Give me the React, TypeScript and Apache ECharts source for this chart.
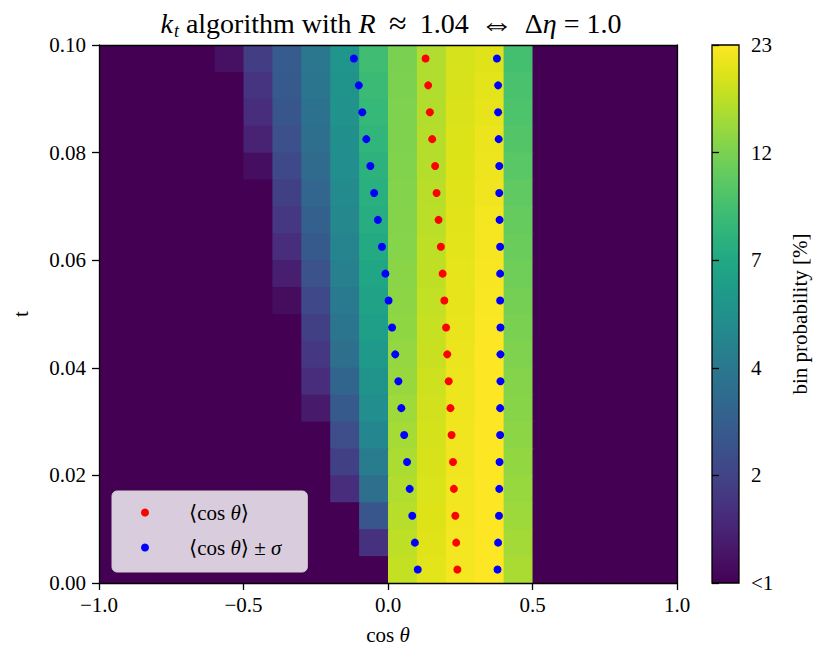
import React, { useEffect, useRef } from "react";
import * as echarts from "echarts";

// cos(theta) bin edges: -1.0 ... 1.0 in steps of 0.1 (20 bins); t bins: 0 ... 0.1 in steps of 0.005 (20 bins)
const cosBinStart = -1.0;
const cosBinWidth = 0.1;
const tBinWidth = 0.005;
const tTop = 0.1;

// bin probability [%], rows from the top t bin (0.095-0.100) down to the bottom one (0.000-0.005)
// columns: cos(theta) bins from [-1.0,-0.9] to [0.9,1.0]
const binProbability: number[][] = [
  [0, 0, 0, 0, 1.15, 1.75, 2.45, 3.45, 5.1, 8.7, 12.3, 15.8, 18.8, 19.8, 9.0, 0, 0, 0, 0, 0],
  [0, 0, 0, 0, 0, 1.6, 2.4, 3.35, 5.0, 8.4, 12.4, 15.9, 19.0, 20.2, 9.3, 0, 0, 0, 0, 0],
  [0, 0, 0, 0, 0, 1.5, 2.3, 3.25, 4.9, 8.1, 12.5, 16.0, 19.2, 20.6, 9.5, 0, 0, 0, 0, 0],
  [0, 0, 0, 0, 0, 1.35, 2.15, 3.1, 4.75, 7.8, 12.6, 16.1, 19.4, 21.0, 9.8, 0, 0, 0, 0, 0],
  [0, 0, 0, 0, 0, 1.12, 1.95, 2.95, 4.6, 7.5, 12.7, 16.2, 19.6, 21.3, 10.2, 0, 0, 0, 0, 0],
  [0, 0, 0, 0, 0, 0, 1.8, 2.8, 4.45, 7.2, 12.8, 16.4, 19.8, 21.6, 10.6, 0, 0, 0, 0, 0],
  [0, 0, 0, 0, 0, 0, 1.65, 2.6, 4.3, 7.0, 12.9, 16.6, 20.0, 21.9, 10.9, 0, 0, 0, 0, 0],
  [0, 0, 0, 0, 0, 0, 1.5, 2.4, 4.1, 6.7, 13.0, 16.8, 20.2, 22.2, 11.2, 0, 0, 0, 0, 0],
  [0, 0, 0, 0, 0, 0, 1.3, 2.2, 3.9, 6.4, 13.2, 17.0, 20.4, 22.5, 11.5, 0, 0, 0, 0, 0],
  [0, 0, 0, 0, 0, 0, 1.1, 1.95, 3.6, 6.1, 13.4, 17.2, 20.6, 22.7, 11.9, 0, 0, 0, 0, 0],
  [0, 0, 0, 0, 0, 0, 0, 1.8, 3.35, 5.8, 13.6, 17.5, 20.8, 22.9, 12.3, 0, 0, 0, 0, 0],
  [0, 0, 0, 0, 0, 0, 0, 1.65, 3.1, 5.4, 13.9, 17.8, 21.0, 23.0, 12.6, 0, 0, 0, 0, 0],
  [0, 0, 0, 0, 0, 0, 0, 1.5, 2.75, 5.0, 14.2, 18.1, 21.2, 23.0, 12.9, 0, 0, 0, 0, 0],
  [0, 0, 0, 0, 0, 0, 0, 1.25, 2.4, 4.6, 14.6, 18.4, 21.4, 23.0, 13.1, 0, 0, 0, 0, 0],
  [0, 0, 0, 0, 0, 0, 0, 0, 2.1, 4.2, 15.0, 18.7, 21.5, 23.0, 13.4, 0, 0, 0, 0, 0],
  [0, 0, 0, 0, 0, 0, 0, 0, 1.8, 3.7, 15.4, 19.0, 21.6, 23.0, 13.8, 0, 0, 0, 0, 0],
  [0, 0, 0, 0, 0, 0, 0, 0, 1.5, 3.1, 15.8, 19.3, 21.7, 23.0, 14.1, 0, 0, 0, 0, 0],
  [0, 0, 0, 0, 0, 0, 0, 0, 0, 2.3, 16.3, 19.6, 21.8, 23.0, 14.5, 0, 0, 0, 0, 0],
  [0, 0, 0, 0, 0, 0, 0, 0, 0, 1.55, 16.8, 19.9, 21.9, 23.0, 14.9, 0, 0, 0, 0, 0],
  [0, 0, 0, 0, 0, 0, 0, 0, 0, 0, 17.3, 20.2, 22.0, 23.0, 15.3, 0, 0, 0, 0, 0],
];

// t bin centres, top to bottom
const tCenters: number[] = [
  0.0975, 0.0925, 0.0875, 0.0825, 0.0775, 0.0725, 0.0675, 0.0625, 0.0575, 0.0525,
  0.0475, 0.0425, 0.0375, 0.0325, 0.0275, 0.0225, 0.0175, 0.0125, 0.0075, 0.0025,
];
// <cos theta> per t bin (top to bottom)
const meanCos: number[] = [
  0.130, 0.139, 0.145, 0.153, 0.163, 0.168, 0.175, 0.183, 0.189, 0.195,
  0.201, 0.205, 0.210, 0.216, 0.220, 0.225, 0.228, 0.233, 0.236, 0.240,
];
// <cos theta> - sigma
const lowerCos: number[] = [
  -0.118, -0.101, -0.089, -0.075, -0.061, -0.048, -0.035, -0.021, -0.009, 0.002,
  0.014, 0.025, 0.036, 0.046, 0.056, 0.066, 0.075, 0.084, 0.093, 0.103,
];
// <cos theta> + sigma
const upperCos: number[] = [
  0.377, 0.381, 0.381, 0.383, 0.385, 0.385, 0.386, 0.388, 0.388, 0.388,
  0.389, 0.389, 0.389, 0.388, 0.388, 0.386, 0.385, 0.384, 0.381, 0.379,
];

const colorbarMax = 23;
const colorbarTickLabels: string[] = ["<1", "2", "4", "7", "12", "23"];

const viridis: string[] = [
  "#440154", "#471365", "#482475", "#463480", "#414487", "#3b528b", "#355f8d",
  "#2f6c8e", "#2a788e", "#25848e", "#21918c", "#1e9c89", "#22a884", "#2fb47c",
  "#44bf70", "#5ec962", "#7ad151", "#9bd93c", "#bddf26", "#dfe318", "#fde725",
];

const FONT = "'Liberation Serif', 'DejaVu Serif', serif";

export default function App() {
  const ref = useRef<HTMLDivElement>(null);

  useEffect(() => {
    document.body.style.margin = "0";
    if (!ref.current) return;
    const chart = echarts.init(ref.current, null, { renderer: "svg" });

    const cells: number[][] = [];
    binProbability.forEach((row, r) => {
      const tc = tTop - tBinWidth * (r + 0.5);
      row.forEach((p, c) => {
        const xc = cosBinStart + cosBinWidth * (c + 0.5);
        const frac = p > 1 ? Math.min(1, Math.log(p) / Math.log(colorbarMax)) : 0;
        cells.push([xc, tc, p, frac]);
      });
    });

    const gradientStops = viridis.map((c, i) => ({ offset: i / (viridis.length - 1), color: c }));

    const axisLine = { show: true, onZero: false, lineStyle: { color: "#000", width: 1.3 } };
    const axisTick = { show: true, inside: false, length: 7, lineStyle: { color: "#000", width: 1.3 } };
    const labelStyle = { color: "#000", fontFamily: FONT, fontSize: 21 };
    const T = 28;
    const titleBase = { color: "#000", fontFamily: FONT, fontSize: T };

    const option: any = {
      animation: false,
      backgroundColor: "#fff",
      title: {
        text: "{i|k}{s|t} algorithm with {i|R}{op|≈}1.04{arr|⇔}Δ{i|η}{eq|=}1.0",
        left: 386,
        textAlign: "center",
        top: 1,
        textStyle: {
          ...titleBase,
          fontWeight: "normal",
          rich: {
            i: { ...titleBase, fontStyle: "italic" },
            s: { ...titleBase, fontStyle: "italic", fontSize: 18, verticalAlign: "bottom", padding: [9, 0, 0, 1] },
            op: { ...titleBase, fontSize: 32, width: 44, align: "center" },
            arr: { ...titleBase, fontSize: 34, width: 56, align: "center" },
            eq: { ...titleBase, width: 30, align: "center" },
          },
        },
      },
      grid: [
        { left: 99, top: 45, width: 578, height: 538, show: true, backgroundColor: "#440154", borderWidth: 0 },
        { left: 712, top: 45, width: 27, height: 538 },
      ],
      xAxis: [
        {
          gridIndex: 0, type: "value", min: -1, max: 1, interval: 0.5, position: "bottom", z: 10,
          axisLine, axisTick, splitLine: { show: false },
          axisLabel: { ...labelStyle, margin: 11, formatter: (v: number) => v.toFixed(1).replace("-", "−") },
          name: "cos {i|θ}", nameLocation: "middle", nameGap: 41,
          nameTextStyle: { ...labelStyle, rich: { i: { ...labelStyle, fontStyle: "italic" } } },
        },
        {
          gridIndex: 0, type: "value", min: -1, max: 1, position: "top", z: 10,
          axisLine, axisTick: { show: false }, axisLabel: { show: false }, splitLine: { show: false },
        },
        {
          gridIndex: 1, type: "value", min: 0, max: 1, show: false,
        },
      ],
      yAxis: [
        {
          gridIndex: 0, type: "value", min: 0, max: 0.1, interval: 0.02, position: "left", z: 10,
          axisLine, axisTick, splitLine: { show: false },
          axisLabel: { ...labelStyle, margin: 13, formatter: (v: number) => v.toFixed(2) },
          name: "t", nameLocation: "middle", nameGap: 68, nameRotate: 90,
          nameTextStyle: { ...labelStyle },
        },
        {
          gridIndex: 0, type: "value", min: 0, max: 0.1, position: "right", z: 10,
          axisLine, axisTick: { show: false }, axisLabel: { show: false }, splitLine: { show: false },
        },
        {
          gridIndex: 1, type: "value", min: 0, max: 5, interval: 1, position: "right", z: 10,
          axisLine: { show: false }, axisTick, splitLine: { show: false },
          axisLabel: { ...labelStyle, margin: 12, formatter: (v: number) => colorbarTickLabels[Math.round(v)] },
          name: "bin probability [%]", nameLocation: "middle", nameGap: 50, nameRotate: 90,
          nameTextStyle: { ...labelStyle },
        },
      ],
      visualMap: {
        type: "continuous",
        show: false,
        seriesIndex: 0,
        dimension: 3,
        min: 0,
        max: 1,
        inRange: { color: viridis },
      },
      legend: {
        orient: "vertical",
        left: 112,
        top: 491,
        padding: [11, 26, 14, 29],
        itemWidth: 48,
        itemHeight: 8,
        itemTextGap: 36,
        itemGap: 14,
        backgroundColor: "rgba(255,255,255,0.8)",
        borderColor: "#cfcfcf",
        borderWidth: 1,
        borderRadius: 5,
        data: [
          { name: "mean", icon: "circle" },
          { name: "band", icon: "circle" },
        ],
        formatter: (name: string) => (name === "mean" ? "⟨cos {i|θ}⟩" : "⟨cos {i|θ}⟩ ± {i|σ}"),
        textStyle: { ...labelStyle, padding: [0, 0, 0, 15], rich: { i: { ...labelStyle, fontStyle: "italic" } } },
      },
      series: [
        {
          type: "custom",
          name: "bins",
          xAxisIndex: 0,
          yAxisIndex: 0,
          clip: true,
          z: 2,
          encode: { x: 0, y: 1 },
          data: cells,
          renderItem: (params: any, api: any) => {
            const c = api.coord([api.value(0), api.value(1)]);
            const s = api.size([cosBinWidth, tBinWidth]);
            return {
              type: "rect",
              shape: { x: c[0] - s[0] / 2, y: c[1] - s[1] / 2, width: s[0] + 1, height: s[1] + 1 },
              style: { fill: api.visual("color") },
            };
          },
        },
        {
          type: "custom",
          name: "colorbar",
          xAxisIndex: 2,
          yAxisIndex: 2,
          z: 2,
          data: [[0, 0, 1, 5]],
          renderItem: (params: any, api: any) => {
            const p0 = api.coord([api.value(0), api.value(1)]);
            const p1 = api.coord([api.value(2), api.value(3)]);
            return {
              type: "rect",
              shape: { x: p0[0], y: p1[1], width: p1[0] - p0[0], height: p0[1] - p1[1] },
              style: {
                fill: new echarts.graphic.LinearGradient(0, 1, 0, 0, gradientStops),
                stroke: "#000",
                lineWidth: 1.3,
              },
            };
          },
        },
        {
          type: "scatter",
          name: "mean",
          xAxisIndex: 0,
          yAxisIndex: 0,
          z: 4,
          symbol: "circle",
          symbolSize: 8,
          itemStyle: { color: "#ff0000", opacity: 1 },
          data: meanCos.map((x, i) => [x, tCenters[i]]),
        },
        {
          type: "scatter",
          name: "band",
          xAxisIndex: 0,
          yAxisIndex: 0,
          z: 4,
          symbol: "circle",
          symbolSize: 8,
          itemStyle: { color: "#0000ff", opacity: 1 },
          data: lowerCos.map((x, i) => [x, tCenters[i]]),
        },
        {
          type: "scatter",
          name: "band",
          xAxisIndex: 0,
          yAxisIndex: 0,
          z: 4,
          symbol: "circle",
          symbolSize: 8,
          itemStyle: { color: "#0000ff", opacity: 1 },
          data: upperCos.map((x, i) => [x, tCenters[i]]),
        },
      ],
    };

    chart.setOption(option);
    return () => chart.dispose();
  }, []);

  return <div ref={ref} style={{ width: 830, height: 663 }} />;
}
